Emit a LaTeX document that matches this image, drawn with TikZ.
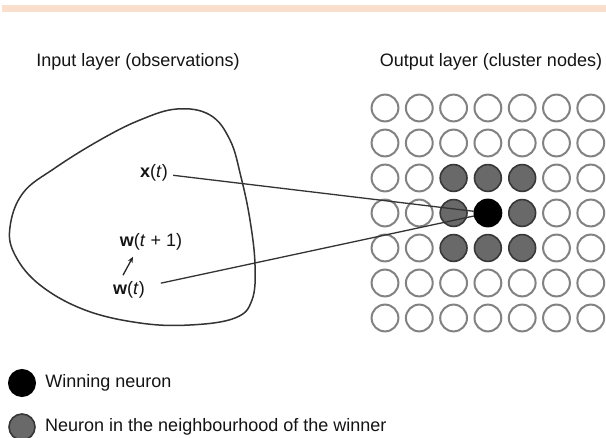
\documentclass[tikz,border=0pt]{standalone}
\usepackage{fontspec}
\setmainfont{Liberation Sans}
\usetikzlibrary{calc,backgrounds,arrows.meta}
\definecolor{bandeau}{RGB}{250,223,205}
\definecolor{bordvide}{RGB}{130,130,130}
\definecolor{voisinage}{RGB}{105,105,105}
\definecolor{bordvoisin}{RGB}{55,55,55}

\begin{document}
\begin{tikzpicture}[%
        x=0.5pt, y=-0.5pt,%
        show background rectangle,%
        tight background,%
        background rectangle/.style={fill=white}%
    ]
%
% Styles
%
\tikzset{every node/.style={font=\fontsize{9}{11}\selectfont, text=black!92, inner sep=0pt}};%
\tikzset{pointe/.style={-{Stealth[length=3pt,width=2.6pt]}, line width=0.65pt, black!85}};%
\tikzset{lien/.style={line width=0.65pt, black!80}};%
\tikzset{neurone/.style={circle, minimum size=13.4pt, draw=bordvide, line width=1pt, fill=white}};%
\tikzset{neurone gagnant/.style={neurone, draw=black, fill=black}};%
\tikzset{neurone voisin/.style={neurone, draw=bordvoisin, line width=0.8pt, fill=voisinage}};%

%
% Macros
%
\pgfmathsetmacro{\pasx}{34.3};%
\pgfmathsetmacro{\pasy}{35};%
\pgfmathsetmacro{\xzero}{385};%
\pgfmathsetmacro{\yzero}{108};%

\useasboundingbox (0,0) rectangle (606,438);%
\fill[bandeau] (2,5) rectangle (606,12);%

%
% Input layer
%
\node (entree) at (138,62) {Input layer (observations)};%
\draw[line width=0.75pt, black!80] plot[smooth cycle, tension=0.65] coordinates {%
    (10,227) (23,193) (55,168) (100,140) (140,120) (177,109) (210,115)
    (230,140) (241,177) (250,220) (255,265) (252,300) (235,318) (190,325)
    (140,323) (85,310) (40,285) (15,255)};%
\node (xt) at (154,173) {\textbf{x}(\textit{t})};%
\node (wt1) at (151,242) {\textbf{w}(\textit{t} + 1)};%
\node (wt) at (129,290) {\textbf{w}(\textit{t})};%
\draw[pointe] ($(wt.north)+(-6,-6)$) -- ($(wt1.south)+(-18,6)$);%

%
% Output layer
%
\node (sortie) at (491,62) {Output layer (cluster nodes)};%
\foreach \i in {1,...,7}{%
    \foreach \j in {1,...,7}{%
        \pgfmathtruncatemacro{\d}{max(abs(\i-4),abs(\j-4))}%
        \ifcase\d
            \node[neurone gagnant] (n-\i-\j) at ({\xzero+(\i-1)*\pasx},{\yzero+(\j-1)*\pasy}) {};%
        \or
            \node[neurone voisin] (n-\i-\j) at ({\xzero+(\i-1)*\pasx},{\yzero+(\j-1)*\pasy}) {};%
        \else
            \node[neurone] (n-\i-\j) at ({\xzero+(\i-1)*\pasx},{\yzero+(\j-1)*\pasy}) {};%
        \fi
    }%
}%
\draw[lien, shorten <=2.5pt] (xt) -- (n-4-4);%
\draw[lien, shorten <=8pt] (wt) -- (n-4-4);%

%
% Legend
%
\node[neurone gagnant, minimum size=13pt] (legende1) at (22,383) {};%
\node[anchor=west] at ($(legende1.east)+(9,0)$) {Winning neuron};%
\node[neurone voisin, minimum size=13pt] (legende2) at (22,427) {};%
\node[anchor=west] at ($(legende2.east)+(9,0)$) {Neuron in the neighbourhood of the winner};%
\end{tikzpicture}
\end{document}
